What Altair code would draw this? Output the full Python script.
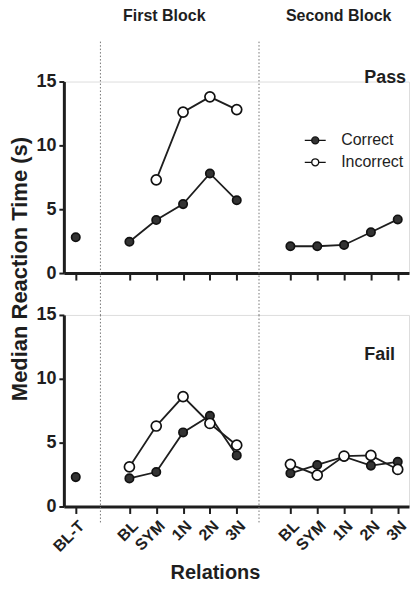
import altair as alt
import pandas as pd

# ---------------- data ----------------
panels = ["Pass", "Fail"]
series_names = ["Correct", "Incorrect"]
block_names = ["Baseline", "First Block", "Second Block"]
baseline_relations = ["BL-T"]
block_relations = ["BL", "SYM", "1N", "2N", "3N"]

pass_correct_baseline = [2.8]
pass_correct_first = [2.45, 4.15, 5.4, 7.8, 5.7]
pass_correct_second = [2.1, 2.1, 2.2, 3.2, 4.2]
pass_incorrect_first = [None, 7.3, 12.6, 13.8, 12.8]

fail_correct_baseline = [2.3]
fail_correct_first = [2.2, 2.7, 5.8, 7.1, 4.0]
fail_correct_second = [2.6, 3.25, 3.9, 3.2, 3.5]
fail_incorrect_first = [3.1, 6.3, 8.6, 6.5, 4.8]
fail_incorrect_second = [3.3, 2.45, 3.95, 4.0, 2.9]

separator_pos = [0.92, 6.83]
block_title_pos = [3.3, 9.8]
block_titles = ["First Block", "Second Block"]
panel_label_pos = [10.75, 10.75]
panel_label_val = [15.3, 11.9]
y_ticks = [0, 5, 10, 15]
y_title = "Median Reaction Time (s)"
x_title = "Relations"

# ---------------- build table ----------------
relations_of = {"Baseline": baseline_relations,
                "First Block": block_relations,
                "Second Block": block_relations}
start_of = {}
slot = 0
for b in block_names:
    start_of[b] = slot
    slot += len(relations_of[b]) + 1

records = []


def add(panel, series, block, values):
    rels = relations_of[block]
    for i, v in enumerate(values):
        if v is None:
            continue
        records.append(dict(panel=panel, series=series, block=block,
                            relation=rels[i], pos=start_of[block] + i,
                            value=v, key=series + "|" + block))


add("Pass", "Correct", "Baseline", pass_correct_baseline)
add("Pass", "Correct", "First Block", pass_correct_first)
add("Pass", "Correct", "Second Block", pass_correct_second)
add("Pass", "Incorrect", "First Block", pass_incorrect_first)
add("Fail", "Correct", "Baseline", fail_correct_baseline)
add("Fail", "Correct", "First Block", fail_correct_first)
add("Fail", "Correct", "Second Block", fail_correct_second)
add("Fail", "Incorrect", "First Block", fail_incorrect_first)
add("Fail", "Incorrect", "Second Block", fail_incorrect_second)
df = pd.DataFrame(records)

tick_pos = []
tick_lab = []
for b in block_names:
    for i, r in enumerate(relations_of[b]):
        tick_pos.append(start_of[b] + i)
        tick_lab.append(r)
label_expr = ""
for p, l in zip(tick_pos, tick_lab):
    label_expr += f"datum.value == {p} ? '{l}' : "
label_expr += "''"

FONT = "Liberation Sans"
INK = "#1e1e1e"
W = 346
H = 192

xscale = alt.Scale(domain=[-0.443, 12.42], nice=False, zero=False)
yscale = alt.Scale(domain=[0, 15], nice=False, zero=True)

LEGEND_PATH = "M-3,0L-1,0M1,0L3,0M-1,0A1,1,0,1,0,1,0A1,1,0,1,0,-1,0Z"


def x_enc(show_labels):
    return alt.X("pos:Q", scale=xscale,
                 axis=alt.Axis(values=tick_pos, labelExpr=label_expr,
                               labels=show_labels, title=None, grid=False,
                               tickSize=7, tickWidth=2, tickColor=INK,
                               domainWidth=3, domainColor=INK,
                               labelAngle=-45, labelFontSize=16,
                               labelFontWeight="bold", labelColor=INK,
                               labelPadding=4, labelFont=FONT,
                               labelOverlap=False, labelBound=False))


y_enc = alt.Y("value:Q", scale=yscale,
              axis=alt.Axis(values=y_ticks, title=None, grid=False,
                            tickSize=5, tickWidth=2, tickColor=INK,
                            domainWidth=3, domainColor=INK,
                            labelFontSize=18, labelFontWeight="bold",
                            labelColor=INK, labelPadding=3, labelFont=FONT))


def panel(name, is_bottom):
    d = df[df.panel == name]
    x = x_enc(is_bottom)
    base = alt.Chart(d)
    sep_df = pd.DataFrame({"pos": separator_pos})
    if is_bottom:
        sep = alt.Chart(sep_df).mark_rule(color="#777", strokeWidth=1,
                                          strokeDash=[1.5, 2]).encode(
            x=x, y=alt.value(0), y2=alt.value(H + 16))
    else:
        sep = alt.Chart(sep_df).mark_rule(color="#777", strokeWidth=1,
                                          strokeDash=[1.5, 2]).encode(
            x=x, y=alt.value(-40), y2=alt.value(H + 42))
    lines = base.mark_line(color=INK, strokeWidth=1.8).encode(
        x=x, y=y_enc, detail="key:N")
    legend = None
    if not is_bottom:
        legend = alt.Legend(orient="none", legendX=244, legendY=51,
                            title=None, symbolType=LEGEND_PATH, symbolSize=49,
                            symbolStrokeColor="#111", symbolStrokeWidth=1.4,
                            labelFontSize=16, labelFont=FONT, labelColor=INK,
                            labelOffset=18, rowPadding=6, padding=0)
    pts = base.mark_point(shape="circle", filled=True, opacity=1,
                          stroke="#111", strokeWidth=1.7).encode(
        x=x, y=y_enc,
        fill=alt.Fill("series:N",
                      scale=alt.Scale(domain=series_names,
                                      range=["#333333", "#ffffff"]),
                      legend=legend),
        size=alt.condition("datum.series == 'Incorrect'",
                           alt.value(100), alt.value(70)))
    idx = panels.index(name)
    lab = alt.Chart(pd.DataFrame({"pos": [panel_label_pos[idx]],
                                  "value": [panel_label_val[idx]],
                                  "t": [name]})).mark_text(
        align="left", baseline="middle", fontSize=18, fontWeight="bold",
        font=FONT, color=INK).encode(x=x, y=y_enc, text="t:N")
    layers = [sep, lines, pts, lab]
    if not is_bottom:
        bt = alt.Chart(pd.DataFrame({"pos": block_title_pos,
                                     "t": block_titles})).mark_text(
            align="center", baseline="middle", fontSize=16,
            fontWeight="bold", font=FONT, color=INK).encode(
            x=x, y=alt.value(-66), text="t:N")
        yt = alt.Chart(pd.DataFrame({"t": [y_title]})).mark_text(
            angle=270, align="center", baseline="middle", fontSize=22,
            fontWeight="bold", font=FONT, color=INK).encode(
            x=alt.value(-44), y=alt.value(188), text="t:N")
        layers += [bt, yt]
    else:
        xt = alt.Chart(pd.DataFrame({"t": [x_title]})).mark_text(
            align="center", baseline="middle", fontSize=20,
            fontWeight="bold", font=FONT, color=INK).encode(
            x=alt.value(152), y=alt.value(H + 67), text="t:N")
        layers += [xt]
    return alt.layer(*layers).properties(width=W, height=H)


top = panel("Pass", False)
bottom = panel("Fail", True)

chart = alt.vconcat(top, bottom, spacing=42, bounds="flush").resolve_scale(
    fill="independent"
).properties(
    padding={"left": 0, "top": -2, "right": 0, "bottom": 0}
).configure_view(stroke=None).configure(font=FONT)

chart.save("out.html", embed_options={"renderer": "svg", "actions": False})
